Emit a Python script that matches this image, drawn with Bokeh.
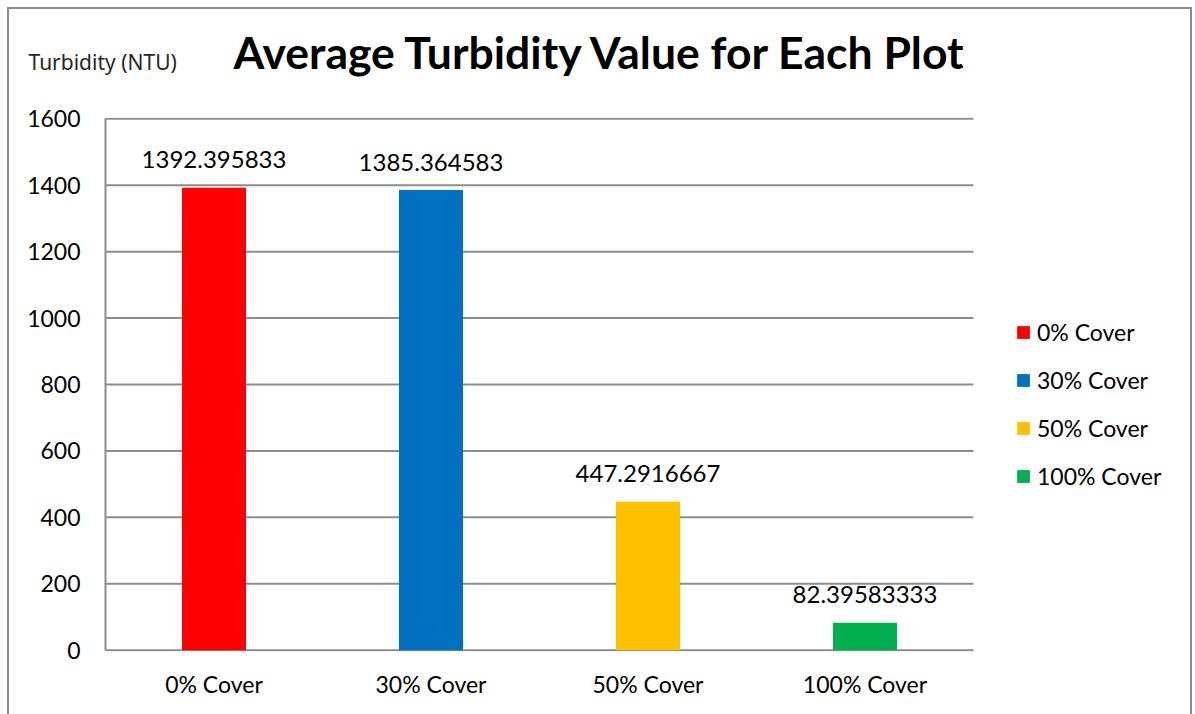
from bokeh.plotting import figure
from bokeh.models import (ColumnDataSource, Legend, LegendItem, Label, Title,
                          Range1d, FixedTicker, InlineStyleSheet)
from bokeh.embed import file_html
from bokeh.resources import INLINE
from bokeh.core.properties import value

categories = ["0% Cover", "30% Cover", "50% Cover", "100% Cover"]
turbidity = [1392.395833, 1385.364583, 447.2916667, 82.39583333]
colors = ["#FF0000", "#0070C0", "#FFC000", "#00B050"]
y_ticks = [0, 200, 400, 600, 800, 1000, 1200, 1400, 1600]
title_text = "Average Turbidity Value for Each Plot"
y_label = "Turbidity (NTU)"

FONT = "Lato"
GRID = "#8c8c8c"

n = len(categories)
xpos = [i + 0.5 for i in range(n)]          # category centres on the numeric axis
src = ColumnDataSource(dict(x=xpos, cat=categories, val=turbidity, color=colors,
                            label=[str(v) for v in turbidity]))
grid_src = ColumnDataSource(dict(y=y_ticks, x0=[0] * len(y_ticks), x1=[n] * len(y_ticks)))

border_css = InlineStyleSheet(css="""
:host::after {
  content: "";
  position: absolute;
  left: 7px; top: 7px; right: 3px; bottom: 0px;
  border: 2px solid #8c8c8c;
  border-bottom: none;
  pointer-events: none;
}
""")

ymax = y_ticks[-1]
p = figure(width=1195, height=714, x_range=Range1d(0, n + 1), y_range=Range1d(-4, ymax + 4),
           output_backend="svg", toolbar_location=None,
           min_border_left=105, min_border_right=5, min_border_top=117, min_border_bottom=63,
           stylesheets=[border_css])
p.outline_line_color = None
p.xgrid.visible = False
p.ygrid.visible = False

# horizontal gridlines limited to the category area
p.segment(x0="x0", x1="x1", y0="y", y1="y", source=grid_src, line_color=GRID, line_width=2)

p.yaxis.ticker = FixedTicker(ticks=y_ticks)
p.yaxis.bounds = (0, ymax)
p.xaxis.ticker = FixedTicker(ticks=xpos)
p.xaxis.major_label_overrides = {x: c for x, c in zip(xpos, categories)}
p.xaxis.axis_line_color = None
for ax in (p.xaxis[0], p.yaxis[0]):
    ax.major_tick_line_color = None
    ax.minor_tick_line_color = None
    ax.major_label_text_font = FONT
    ax.major_label_text_font_size = "23px"
    ax.major_label_text_color = "black"
p.yaxis.axis_line_color = GRID
p.yaxis.axis_line_width = 2
p.yaxis.major_label_standoff = 19
p.xaxis.major_label_standoff = 12

bars = p.vbar(x="x", top="val", width=0.295, fill_color="color", line_color=None, source=src)

p.text(x="x", y="val", text="label", source=src, text_align="center",
       text_baseline="alphabetic", y_offset=-28, text_font=value(FONT),
       text_font_size="24px", text_color="black")

items = [LegendItem(label=c, renderers=[bars], index=i) for i, c in enumerate(categories)]
legend = Legend(items=items, location=(910, 161), padding=0, margin=0, spacing=20,
                glyph_width=16, glyph_height=16, label_standoff=6, label_height=26,
                label_text_font=FONT, label_text_font_size="23px", label_text_color="black",
                border_line_color=None, background_fill_alpha=0)
p.add_layout(legend)

p.title = Title(text=title_text, align="left", offset=128, standoff=24,
                text_font=FONT, text_font_style="bold", text_font_size="44.5px",
                text_color="black")
p.add_layout(Label(x=-77, y=56, x_units="screen", y_units="screen", text=y_label,
                   text_font="Noto Sans", text_font_size="21px",
                   text_baseline="alphabetic", text_color="#262626"), "above")

open("out.html", "w").write(file_html(p, INLINE))
